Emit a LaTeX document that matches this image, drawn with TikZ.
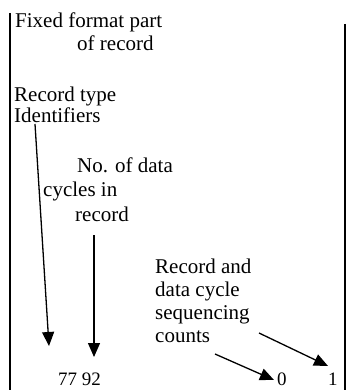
\documentclass[tikz,border=0pt]{standalone}
\usepackage{fontspec}
\setmainfont{Liberation Serif}
\usetikzlibrary{arrows.meta}
\tikzset{
  lbl/.style={anchor=base west, inner sep=0pt, font=\fontsize{21}{24}\selectfont},
  num/.style={anchor=base west, inner sep=0pt, font=\fontsize{19}{22}\selectfont},
  rule/.style={line width=2pt},
  ptr/.style={line width=1.3pt, -{Triangle[length=14pt,width=12pt]}}
}
\begin{document}
\begin{tikzpicture}[x=1pt,y=-1pt]
\useasboundingbox (0,0) rectangle (346,390);
% frame lines
\coordinate (ltop) at (10,13);
\coordinate (lbot) at (10,390);
\coordinate (rtop) at (345,24);
\coordinate (rbot) at (345,390);
\draw[rule] (ltop) -- (lbot);
\draw[rule] (rtop) -- (rbot);
% labels
\node[lbl] (fix1) at (15,28) {Fixed format part};
\node[lbl] (fix2) at (77,51) {of record};
\node[lbl] (rt1) at (14,102) {Record type};
\node[lbl] (rt2) at (14,123) {Identifiers};
\node[lbl] (nd1) at (77,172) {No. of data};
\node[lbl] (nd2) at (43,196) {cycles in};
\node[lbl] (nd3) at (75,221) {record};
\node[lbl] (sq1) at (155,273) {Record and};
\node[lbl] (sq2) at (155,296) {data cycle};
\node[lbl] (sq3) at (155,319) {sequencing};
\node[lbl] (sq4) at (155,342) {counts};
\node[num] (n77) at (58,385) {77 92};
\node[num] (n0) at (277,385) {0};
\node[num] (n1) at (328,385) {1};
% arrow ends
\coordinate (a1s) at (35,124);
\coordinate (a1e) at (49,346);
\coordinate (a2s) at (94,235);
\coordinate (a2e) at (94,357);
\coordinate (a3s) at (215,354);
\coordinate (a3e) at (274,380);
\coordinate (a4s) at (259,333);
\coordinate (a4e) at (328,366);
\draw[ptr] (a1s) -- (a1e);
\draw[ptr] (a2s) -- (a2e);
\draw[ptr] (a3s) -- (a3e);
\draw[ptr] (a4s) -- (a4e);
\end{tikzpicture}
\end{document}
